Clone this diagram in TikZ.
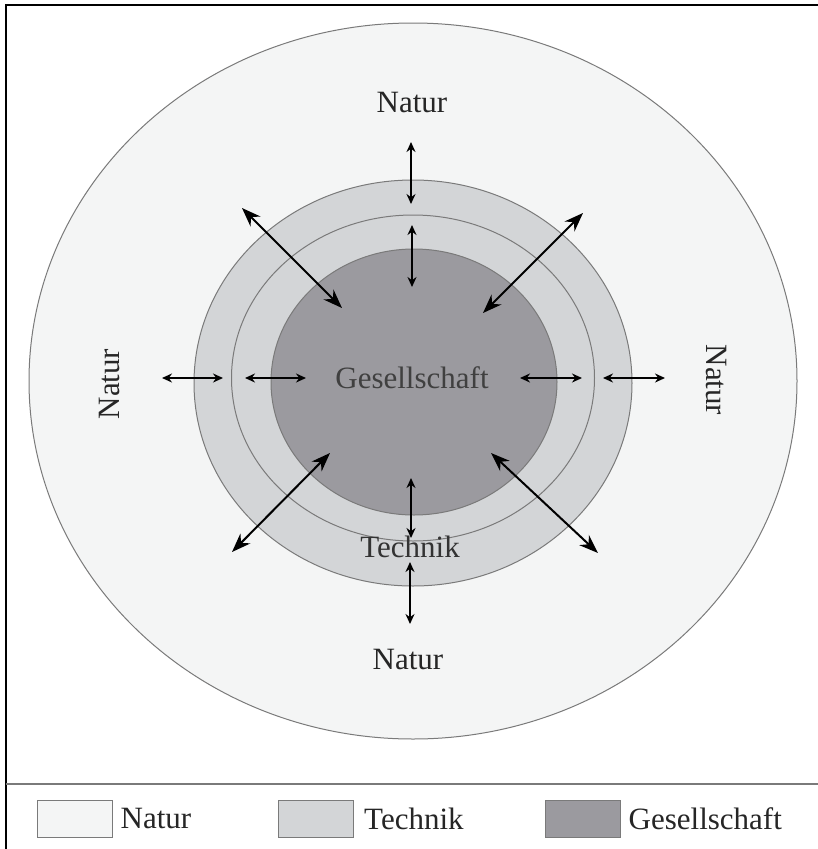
\documentclass[tikz,border=0pt]{standalone}
\usepackage{fontspec}
\setmainfont{Liberation Serif}
\usetikzlibrary{shapes.geometric,arrows.meta,positioning}

\definecolor{natur}{HTML}{F4F5F5}
\definecolor{technik}{HTML}{D3D5D7}
\definecolor{gesell}{HTML}{9B9A9F}
\definecolor{rand}{HTML}{7A7A7A}
\definecolor{schrift}{HTML}{262626}

\tikzset{
  ring/.style={ellipse, draw=rand, line width=1pt, inner sep=0pt, outer sep=0pt},
  beschr/.style={font=\fontsize{31}{34}\selectfont, text=schrift, inner sep=0pt},
  pfeil/.style={line width=1.5pt, {Stealth[length=10pt,width=9pt]}-{Stealth[length=10pt,width=9pt]}},
  grosspfeil/.style={line width=2pt, {Stealth[length=19pt,width=14pt]}-{Stealth[length=19pt,width=14pt]}},
  legbox/.style={draw=rand, line width=1pt, minimum width=75pt, minimum height=37pt, inner sep=0pt},
}

\begin{document}
\begin{tikzpicture}[x=1pt, y=-1pt]
          \useasboundingbox[fill=white] (0,0) rectangle (818,849);
          % Rahmen und Trennlinie
          \draw[line width=2pt] (6,849) -- (6,5) -- (818,5);
          \draw[rand, line width=1.5pt] (6,784) -- (818,784);

          % Kreise
          \node[ring, fill=natur, minimum width=768pt, minimum height=716pt] (natur) at (413,381) {};
          \node[ring, fill=technik, minimum width=438pt, minimum height=406pt] (technik) at (413,383) {};
          \node[ring, fill=technik, minimum width=363pt, minimum height=326pt] (mitte) at (413,378) {};
          \node[ring, fill=gesell, minimum width=286pt, minimum height=266pt] (gesell) at (414,382) {};

          % Beschriftung
          \node[beschr, text=black!75] (t_gesell) at (412,378) {Gesellschaft};
          \node[beschr, text=black!80] (t_technik) at (410,547) {Technik};
          \node[beschr] (n_oben) at (412,102) {Natur};
          \node[beschr] (n_unten) at (408,659) {Natur};
          \node[beschr, rotate=90] (n_links) at (110,384) {Natur};
          \node[beschr, rotate=-90] (n_rechts) at (716,380) {Natur};

          % Pfeilenden
          \coordinate (o1) at (411,142);  \coordinate (o2) at (411,204);
          \coordinate (o3) at (412,225);  \coordinate (o4) at (412,287);
          \coordinate (u1) at (411,478);  \coordinate (u2) at (411,538);
          \coordinate (u3) at (410,562);  \coordinate (u4) at (410,624);
          \coordinate (l1) at (162,378);  \coordinate (l2) at (223,378);
          \coordinate (l3) at (245,378);  \coordinate (l4) at (306,378);
          \coordinate (r1) at (520,378);  \coordinate (r2) at (582,378);
          \coordinate (r3) at (603,378);  \coordinate (r4) at (665,378);
          \coordinate (nw1) at (242,208); \coordinate (nw2) at (342,308);
          \coordinate (no1) at (583,213); \coordinate (no2) at (483,313);
          \coordinate (sw1) at (330,453); \coordinate (sw2) at (232,552);
          \coordinate (so1) at (491,453); \coordinate (so2) at (598,553);

          % Pfeile
          \draw[pfeil] (o1) -- (o2);
          \draw[pfeil] (o3) -- (o4);
          \draw[pfeil] (u1) -- (u2);
          \draw[pfeil] (u3) -- (u4);
          \draw[pfeil] (l1) -- (l2);
          \draw[pfeil] (l3) -- (l4);
          \draw[pfeil] (r1) -- (r2);
          \draw[pfeil] (r3) -- (r4);
          \draw[grosspfeil] (nw1) -- (nw2);
          \draw[grosspfeil] (no1) -- (no2);
          \draw[grosspfeil] (sw1) -- (sw2);
          \draw[grosspfeil] (so1) -- (so2);

          % Legende
          \node[legbox, fill=natur] (l_natur) at (74.5,818.5) {};
          \node[beschr, right=8pt of l_natur] (lt_natur) {Natur};
          \node[legbox, fill=technik] (l_technik) at (316,818.5) {};
          \node[beschr, right=10pt of l_technik] (lt_technik) {Technik};
          \node[legbox, fill=gesell] (l_gesell) at (582.5,818.5) {};
          \node[beschr, right=8pt of l_gesell] (lt_gesell) {Gesellschaft};
        \end{tikzpicture}
\end{document}
